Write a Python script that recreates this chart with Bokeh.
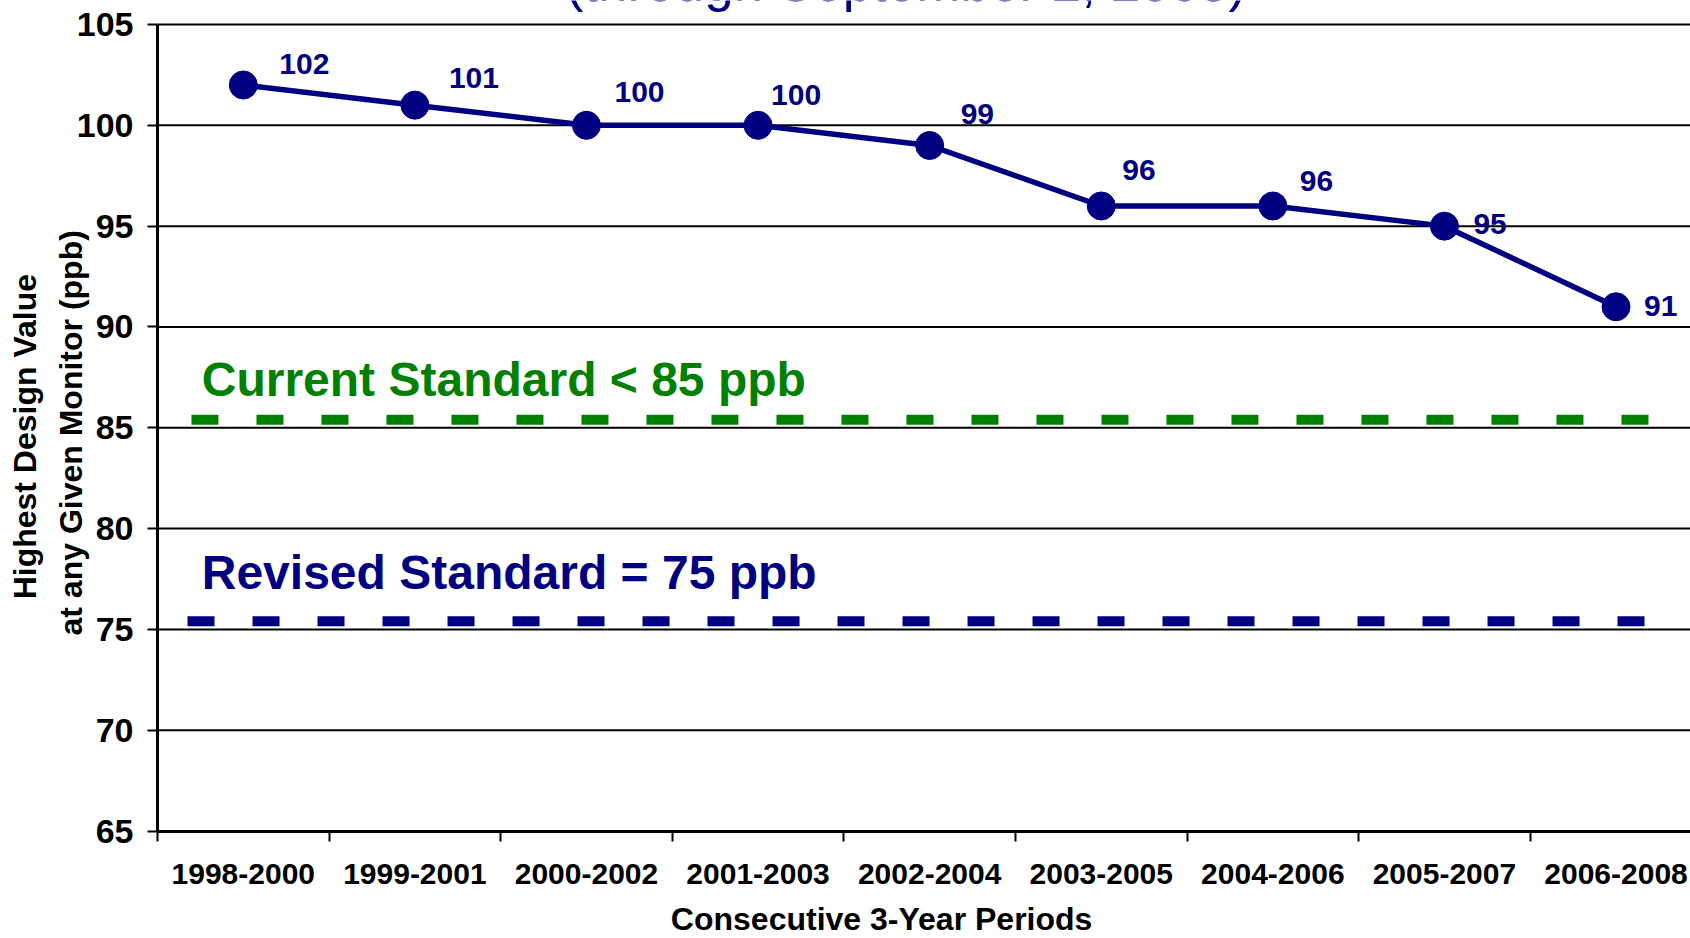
import numpy as np
from bokeh.plotting import figure
from bokeh.models import Range1d, FixedTicker, Label, ColumnDataSource
from bokeh.core.properties import value
from bokeh.embed import file_html
from bokeh.resources import INLINE

# ---------------- data ----------------
periods = ["1998-2000", "1999-2001", "2000-2002", "2001-2003", "2002-2004",
           "2003-2005", "2004-2006", "2005-2007", "2006-2008"]
design_values = [102, 101, 100, 100, 99, 96, 96, 95, 91]
current_standard_level = 85.4
revised_standard_level = 75.4
y_ticks = [65, 70, 75, 80, 85, 90, 95, 100, 105]

title_text = "(through September 2, 2008)"
current_label = "Current Standard < 85 ppb"
revised_label = "Revised Standard = 75 ppb"
y_title_lines = ["Highest Design Value", "at any Given Monitor (ppb)"]
x_title = "Consecutive 3-Year Periods"

# per-label placement of the data labels (screen px from the point: right, down)
label_dx = [36, 34, 28, 13, 31, 21, 27, 29, 28]
label_dy = [-21, -27, -33, -30, -31, -36, -25, -2, -1]

# ---------------- style ----------------
NAVY = "#000080"
GREEN = "#008000"
FONT = "Liberation Sans"

n = len(periods)
centers = np.arange(n) + 0.5
boundaries = np.arange(n + 1)
y_min, y_max = y_ticks[0], y_ticks[-1]

# the frame covers the whole canvas; the axes sit at fixed data positions
X_START, X_END = -0.9149, 8.934
Y_START, Y_END = 59.673, 106.19

p = figure(width=1690, height=938,
           x_range=Range1d(X_START, X_END), y_range=Range1d(Y_START, Y_END),
           output_backend="svg", toolbar_location=None,
           min_border_left=0, min_border_right=0,
           min_border_top=0, min_border_bottom=0)
p.outline_line_color = None
p.background_fill_color = "white"
p.border_fill_color = "white"
p.xgrid.grid_line_color = None
p.ygrid.grid_line_color = None

# horizontal grid lines from the value axis to the right edge
p.segment(x0=0, x1=X_END, y0=y_ticks[1:], y1=y_ticks[1:],
          line_color="black", line_width=2)

# x axis: labels at category centres, tick marks at category boundaries
xa = p.xaxis[0]
xa.fixed_location = y_min
xa.bounds = (0, X_END)
xa.ticker = FixedTicker(ticks=list(centers), minor_ticks=list(boundaries))
xa.major_label_overrides = {float(c): s for c, s in zip(centers, periods)}
xa.major_tick_line_color = None
xa.major_tick_out = 10
xa.major_tick_in = 0
xa.minor_tick_line_color = "black"
xa.minor_tick_line_width = 2
xa.minor_tick_out = 10
xa.minor_tick_in = 0
xa.axis_line_width = 3
xa.axis_line_color = "black"
xa.major_label_standoff = 23
xa.major_label_text_font = FONT
xa.major_label_text_font_style = "bold"
xa.major_label_text_font_size = "30px"
xa.major_label_text_color = "black"

ya = p.yaxis[0]
ya.fixed_location = 0
ya.bounds = (y_min, y_max)
ya.ticker = FixedTicker(ticks=y_ticks)
ya.major_tick_out = 10
ya.major_tick_in = 0
ya.major_tick_line_width = 2
ya.minor_tick_line_color = None
ya.axis_line_width = 3
ya.axis_line_color = "black"
ya.major_label_standoff = 14
ya.major_label_text_font = FONT
ya.major_label_text_font_style = "bold"
ya.major_label_text_font_size = "34px"
ya.major_label_text_color = "black"

# standards (dashed)
p.line(x=[0.198, n - 0.30], y=[current_standard_level] * 2,
       line_color=GREEN, line_width=10, line_dash="27 38", line_cap="butt")
p.line(x=[0.175, n - 0.31], y=[revised_standard_level] * 2,
       line_color=NAVY, line_width=10, line_dash="27 38", line_cap="butt")

# series
src = ColumnDataSource(dict(x=centers, y=design_values,
                            txt=[str(v) for v in design_values],
                            dx=label_dx, dy=label_dy))
p.line("x", "y", source=src, line_color=NAVY, line_width=5.5)
p.scatter("x", "y", source=src, size=28, fill_color=NAVY, line_color=NAVY)
p.text("x", "y", text="txt", source=src, x_offset="dx", y_offset="dy",
       text_font=value(FONT), text_font_style="bold", text_font_size="30px",
       text_color=NAVY, text_align="left", text_baseline="alphabetic")

# standard labels
p.add_layout(Label(x=0.258, y=87.38, text=current_label, text_font=FONT,
                   text_font_style="bold", text_font_size="48px",
                   text_color=GREEN, text_baseline="alphabetic"))
p.add_layout(Label(x=0.258, y=77.80, text=revised_label, text_font=FONT,
                   text_font_style="bold", text_font_size="48px",
                   text_color=NAVY, text_baseline="alphabetic"))

# y-axis title (two lines)
for xpos, ypos, line in zip([-0.772, -0.505], [84.56, 84.75], y_title_lines):
    p.add_layout(Label(x=xpos, y=ypos, text=line, angle=np.pi / 2,
                       text_font=FONT, text_font_style="bold",
                       text_font_size="32px", text_color="black",
                       text_align="center", text_baseline="alphabetic"))

# x-axis title
p.add_layout(Label(x=4.22, y=60.63, text=x_title, text_font=FONT,
                   text_font_style="bold", text_font_size="32px",
                   text_color="black", text_align="center",
                   text_baseline="alphabetic"))

# (cropped at the top, as in the original) chart title
p.add_layout(Label(x=4.362, y=107.1, text=title_text, text_font=FONT,
                   text_font_size="53px", text_color=NAVY,
                   text_align="center", text_baseline="alphabetic"))

open("out.html", "w").write(file_html(p, INLINE))
